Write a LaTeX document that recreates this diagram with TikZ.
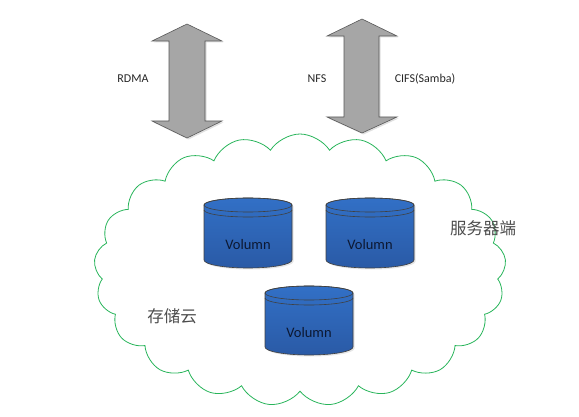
\documentclass[tikz,border=0pt]{standalone}
\usepackage{fontspec}
\setmainfont{Carlito}
\newfontfamily\cjk{Noto Sans CJK SC}
\usepackage{tikz}
\usetikzlibrary{shapes.symbols, shadows}

\definecolor{arrowgray}{RGB}{166,166,166}
\definecolor{arrowline}{RGB}{89,89,89}
\definecolor{voltop}{RGB}{50,112,198}
\definecolor{volbot}{RGB}{42,90,166}
\definecolor{volline}{RGB}{64,64,64}
\definecolor{voltxt}{RGB}{12,24,50}
\definecolor{cloudgreen}{RGB}{40,180,90}

\tikzset{
	bigarrow/.style = {fill=arrowgray, draw=arrowline, line width=0.6pt,
		drop shadow={shadow xshift=1.5pt, shadow yshift=-1.5pt, opacity=0.25}},
	proto/.style = {font=\fontsize{12}{14}\selectfont, text=black!85},
	voltext/.style = {font=\fontsize{14.5}{16}\selectfont, text=voltxt},
	cntext/.style = {font=\cjk\fontsize{16.5}{18}\selectfont, text=black!70},
}

\begin{document}
\begin{tikzpicture} [x=1pt, y=-1pt]
	\useasboundingbox (0,0) rectangle (579,417);
	% double arrows
	\draw [bigarrow] (187,24) -- (222,41) -- (205,41) -- (205,121) -- (222,121) -- (187,138)
		-- (152,121) -- (169,121) -- (169,41) -- (152,41) -- cycle;
	\draw [bigarrow] (362,19) -- (397,36) -- (379,36) -- (379,117) -- (397,117) -- (362,133)
		-- (327,117) -- (344,117) -- (344,36) -- (327,36) -- cycle;
	\node [proto] (rdma) at (133,79) {RDMA};
	\node [proto] (nfs) at (317,79) {NFS};
	\node [proto] (cifs) at (425,79) {CIFS(Samba)};
	% cloud
	\node [cloud, draw=cloudgreen, line width=0.8pt, cloud puffs=21, cloud puff arc=115,
		aspect=1.5, minimum width=412pt, minimum height=272pt, inner sep=0pt] (cloud) at (300,270) {};
	\node [cntext] (server) at (483,228) {服务器端};
	\node [cntext] (store) at (172,316) {存储云};
	% volumes
	\foreach \i/\cx/\ty/\by/\ly in {1/248/205/260/245, 2/370/205/260/245, 3/309/293/347/333} {
		\draw [volline, line width=0.6pt, top color=voltop, bottom color=volbot,
			drop shadow={shadow xshift=1.5pt, shadow yshift=-1.5pt, opacity=0.2}]
			(\cx-44,\ty) -- (\cx-44,\by) arc (180:360:44pt and 8pt) -- (\cx+44,\ty) arc (0:180:44pt and 7pt) -- cycle;
		\draw [volline, line width=0.6pt] (\cx,\ty) ellipse (44pt and 7pt);
		\draw [volline, line width=0.6pt] (\cx-44,\ty+5) arc (180:360:44pt and 7pt);
		\node [voltext] (vol\i) at (\cx,\ly) {Volumn};
	}
\end{tikzpicture}
\end{document}
